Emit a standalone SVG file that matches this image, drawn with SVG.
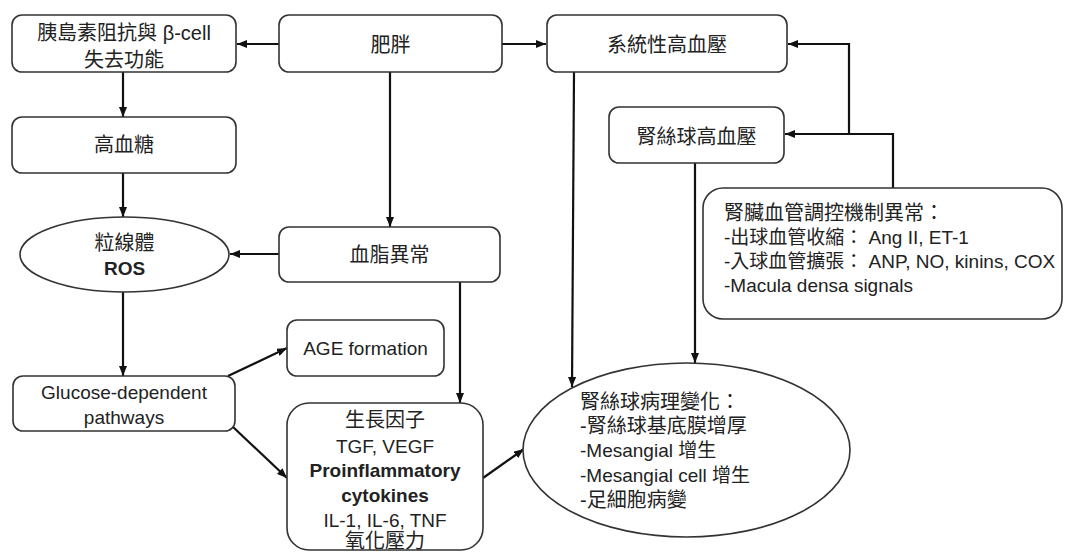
<svg xmlns="http://www.w3.org/2000/svg" width="1066" height="555" viewBox="0 0 1066 555">
<defs>
<marker id="ah" viewBox="0 0 10 8" refX="10" refY="4" markerWidth="10" markerHeight="8" markerUnits="userSpaceOnUse" orient="auto">
<path d="M0,0 L10,4 L0,8 z" fill="#111"/>
</marker>
<style>
.box{fill:#fff;stroke:#333;stroke-width:1.6}
.t{font-family:"Liberation Sans","Noto Sans CJK TC","Noto Sans CJK SC",sans-serif;font-size:20px;fill:#222}
.s{font-size:19px}
.c{text-anchor:middle}
.b{font-weight:bold}
.ln{fill:none;stroke:#111;stroke-width:2.2;marker-end:url(#ah)}
</style>
</defs>
<rect width="1066" height="555" fill="#fff"/>

<g id="connectors">
<line class="ln" x1="279" y1="44" x2="237" y2="44"/>
<line class="ln" x1="502" y1="44" x2="546" y2="44"/>
<line class="ln" x1="123" y1="72" x2="123" y2="117"/>
<line class="ln" x1="123" y1="173" x2="123" y2="217"/>
<line class="ln" x1="390" y1="72" x2="390" y2="227"/>
<line class="ln" x1="279" y1="254" x2="230" y2="254"/>
<line class="ln" x1="123" y1="292" x2="123" y2="376"/>
<line class="ln" x1="228" y1="376" x2="287" y2="348"/>
<line class="ln" x1="233" y1="427" x2="287" y2="478"/>
<line class="ln" x1="460" y1="282" x2="460" y2="403"/>
<line class="ln" x1="483" y1="478" x2="524" y2="449"/>
<line class="ln" x1="574" y1="72" x2="572" y2="387"/>
<line class="ln" x1="695" y1="163" x2="695" y2="363"/>
<polyline class="ln" points="893,188 893,134 785,134"/>
<polyline class="ln" points="849,134 849,44 788,44"/>
</g>

<g id="n-insulin">
<rect class="box" x="12" y="15" width="224" height="57" rx="10"/>
<text class="t c" x="124" y="40">胰島素阻抗與 β-cell</text>
<text class="t c" x="124" y="67">失去功能</text>
</g>

<g id="n-obesity">
<rect class="box" x="279" y="15" width="223" height="57" rx="10"/>
<text class="t c" x="390.5" y="52">肥胖</text>
</g>

<g id="n-systemic-htn">
<rect class="box" x="547" y="15" width="240" height="57" rx="10"/>
<text class="t c" x="667" y="52">系統性高血壓</text>
</g>

<g id="n-glom-htn">
<rect class="box" x="609" y="107" width="175" height="56" rx="10"/>
<text class="t c" x="696.5" y="144">腎絲球高血壓</text>
</g>

<g id="n-hyperglycemia">
<rect class="box" x="12" y="117" width="224" height="56" rx="10"/>
<text class="t c" x="124" y="152">高血糖</text>
</g>

<g id="n-ros">
<ellipse class="box" cx="124.5" cy="254.5" rx="104.5" ry="37.5"/>
<text class="t c" x="124.5" y="250">粒線體</text>
<text class="t s c b" x="124.5" y="275">ROS</text>
</g>

<g id="n-dyslipidemia">
<rect class="box" x="279" y="227" width="221" height="55" rx="10"/>
<text class="t c" x="389.5" y="262">血脂異常</text>
</g>

<g id="n-age">
<rect class="box" x="287" y="320" width="157" height="56" rx="10"/>
<text class="t s c" x="365.5" y="355">AGE formation</text>
</g>

<g id="n-glucose">
<rect class="box" x="13" y="376" width="222" height="55" rx="10"/>
<text class="t s c" x="124" y="399">Glucose-dependent</text>
<text class="t s c" x="124" y="424">pathways</text>
</g>

<g id="n-growth">
<rect class="box" x="287" y="403" width="196" height="147" rx="22"/>
<text class="t c" x="385" y="427">生長因子</text>
<text class="t s c" x="385" y="453">TGF, VEGF</text>
<text class="t s c b" x="385" y="477">Proinflammatory</text>
<text class="t s c b" x="385" y="502">cytokines</text>
<text class="t s c" x="385" y="527">IL-1, IL-6, TNF</text>
<text class="t c" x="385" y="548">氧化壓力</text>
</g>

<g id="n-renal-vascular">
<rect class="box" x="703" y="188" width="359" height="131" rx="20"/>
<text class="t" x="724" y="220">腎臟血管調控機制異常：</text>
<text class="t s" x="724" y="244">-出球血管收縮： Ang II, ET-1</text>
<text class="t s" x="724" y="268">-入球血管擴張： ANP, NO, kinins, COX</text>
<text class="t s" x="724" y="292">-Macula densa signals</text>
</g>

<g id="n-glom-pathology">
<ellipse class="box" cx="686.5" cy="450" rx="163.5" ry="87"/>
<text class="t" x="580" y="409">腎絲球病理變化：</text>
<text class="t" x="580" y="433">-腎絲球基底膜增厚</text>
<text class="t s" x="580" y="457">-Mesangial 增生</text>
<text class="t s" x="580" y="482">-Mesangial cell 增生</text>
<text class="t" x="580" y="507">-足細胞病變</text>
</g>
</svg>
